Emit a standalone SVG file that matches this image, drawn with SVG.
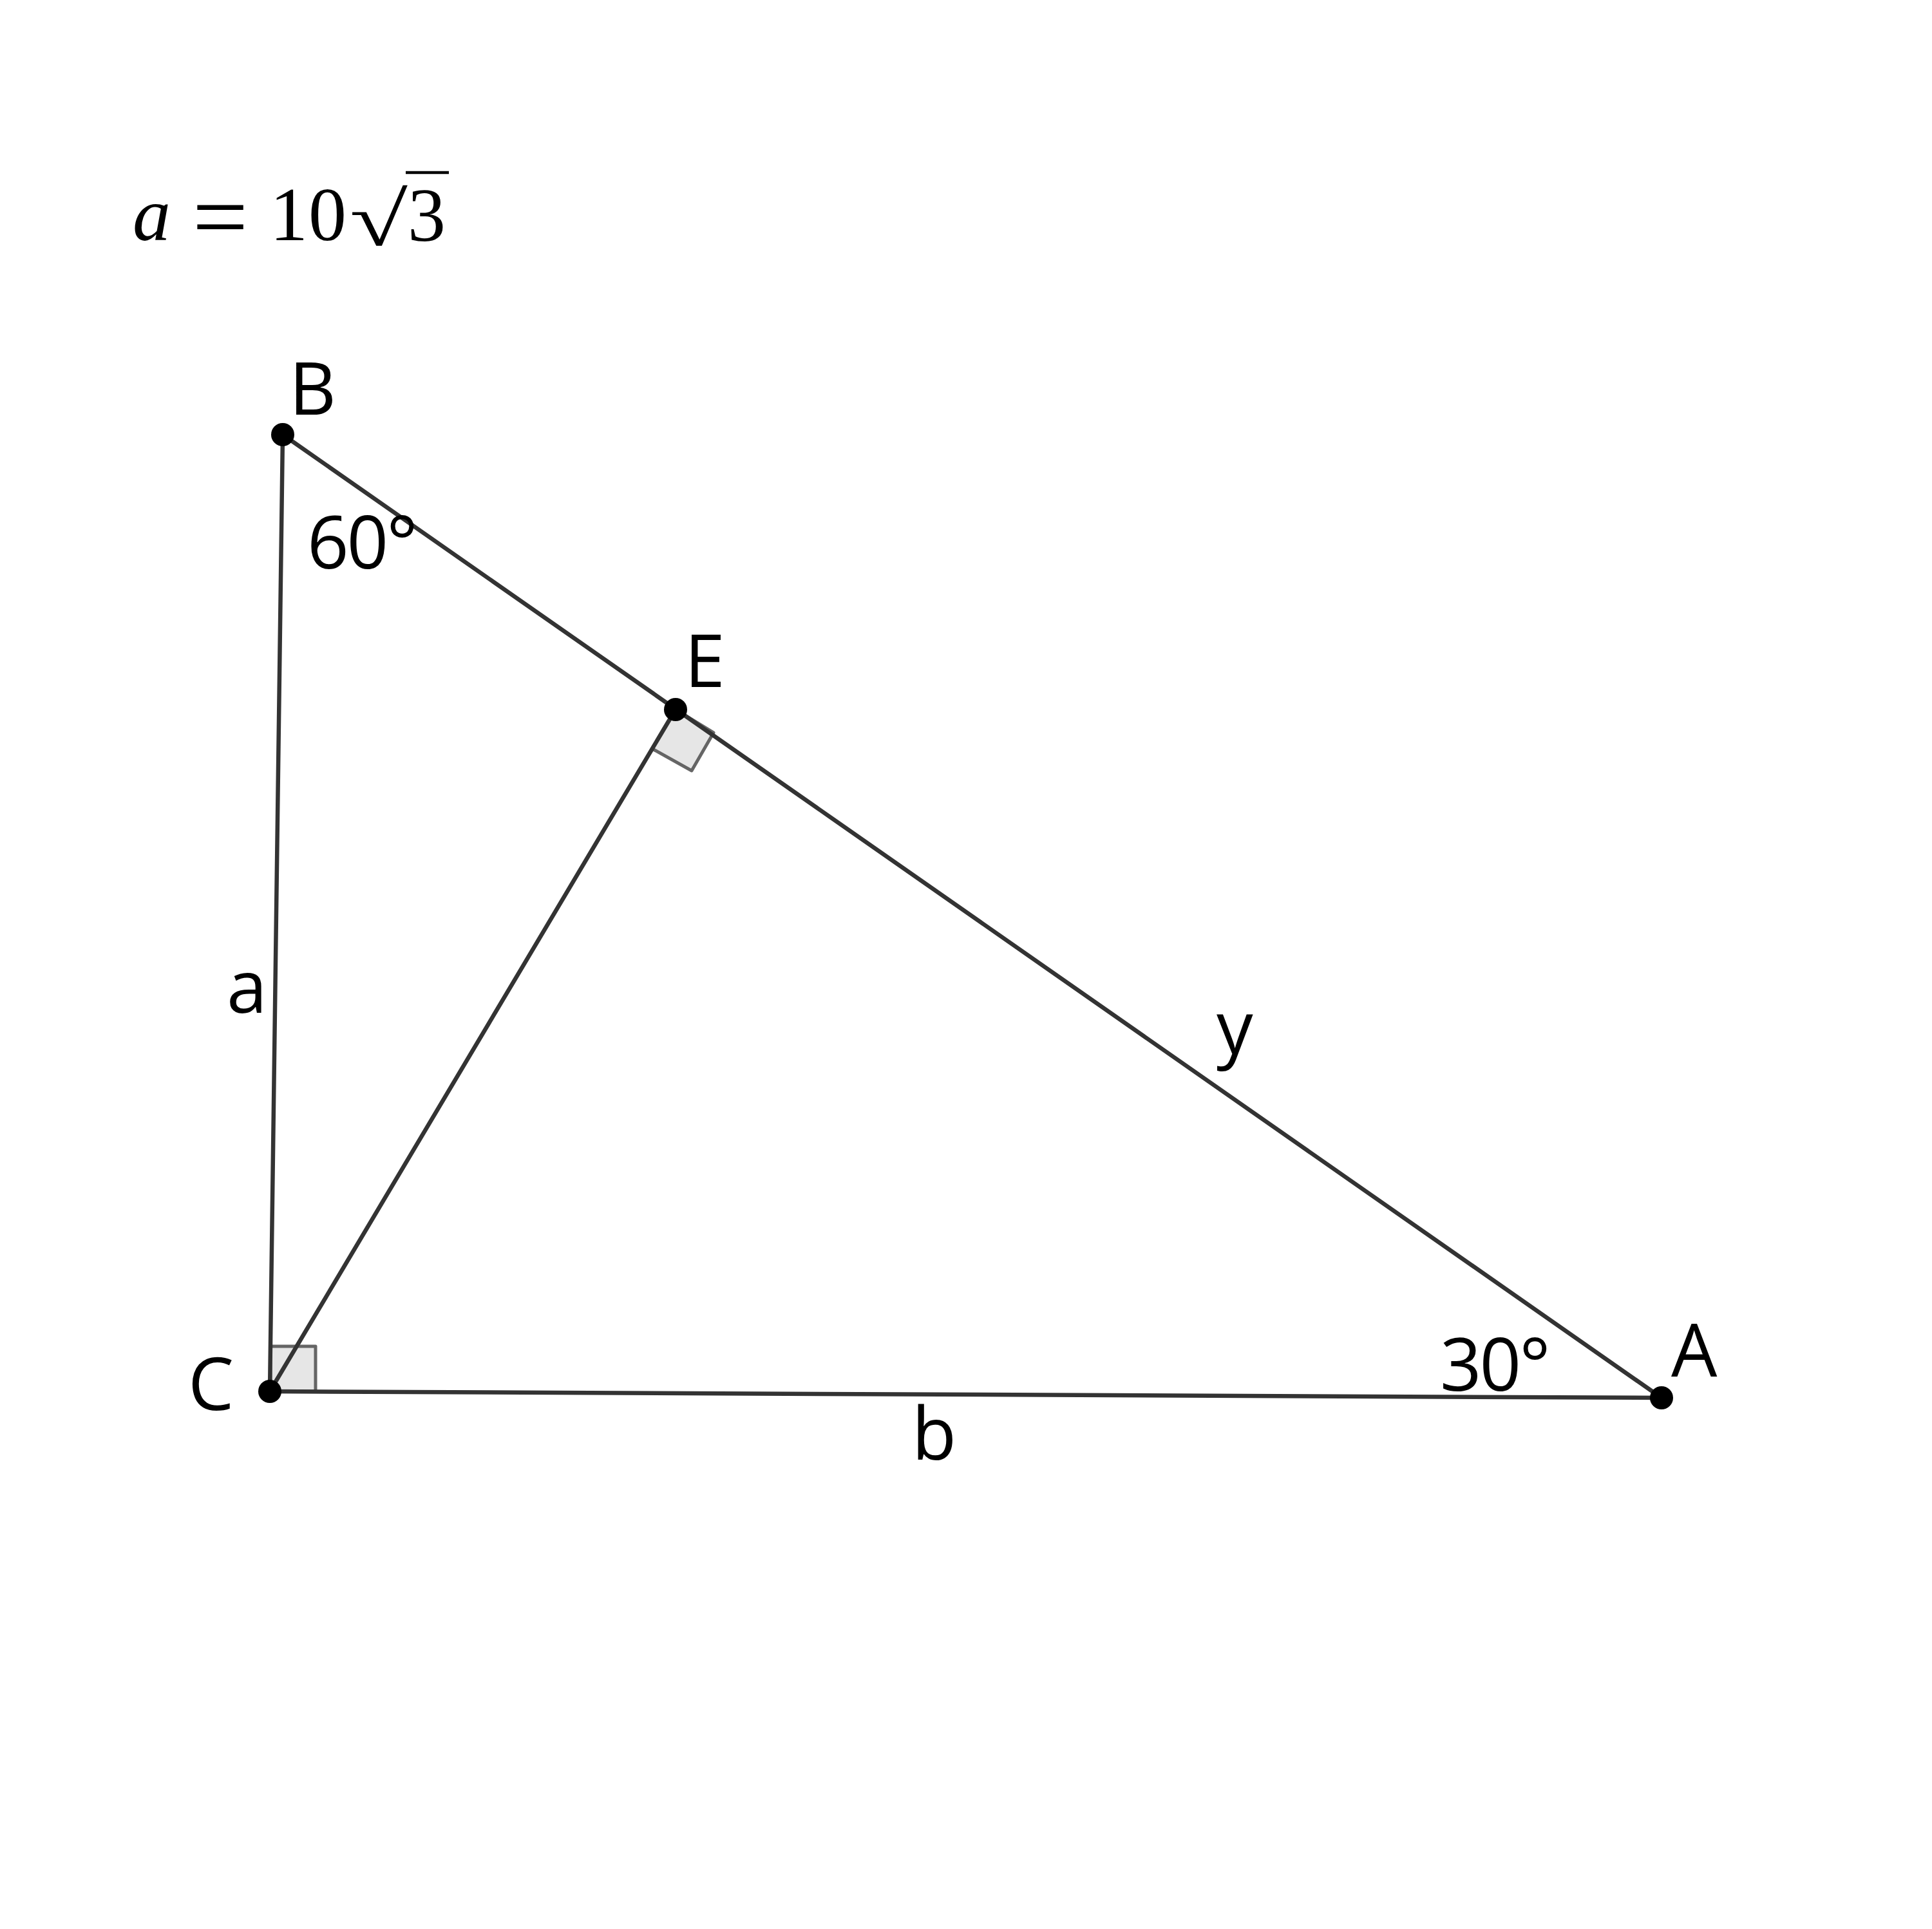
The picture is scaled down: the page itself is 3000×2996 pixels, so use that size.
<svg xmlns="http://www.w3.org/2000/svg" width="3000" height="2996" viewBox="0 0 3000 2996">
<style>
.seg{stroke:#333333;stroke-width:6.5;fill:none;stroke-linecap:round}
.ra{fill:#e6e6e6;stroke:#555555;stroke-width:5;stroke-opacity:0.9;stroke-linejoin:round}
.pt{fill:#000000}
.lbl{font-family:"Open Sans","Noto Sans","DejaVu Sans",sans-serif;font-size:113px;fill:#000000}
.tex{font-family:"Liberation Serif","DejaVu Serif",serif;font-size:118px;fill:#000000}
</style>
<rect width="3000" height="2996" fill="#ffffff"/>
<g id="formula">
<text class="tex" x="206" y="373" font-style="italic">a</text>
<text class="tex" x="-4" y="0" transform="translate(304,387) scale(1.3,1.28)">=</text>
<text class="tex" x="419" y="373">1</text>
<text class="tex" x="479" y="373">0</text>
<text class="tex" x="543" y="381" font-size="182" textLength="90" lengthAdjust="spacingAndGlyphs">√</text>
<line x1="630" y1="268" x2="697" y2="268" stroke="#000" stroke-width="4.5"/>
<text class="tex" x="633" y="374">3</text>
</g>
<g id="angles">
<polygon id="ra-E" class="ra" points="1049,1102 1108,1138 1074,1197 1013,1163"/>
<polygon id="ra-C" class="ra" points="420,2161 420,2091 490,2091 490,2161"/>
</g>
<g id="connectors">
<line id="BC" class="seg" x1="439" y1="675" x2="419" y2="2161"/>
<line id="BA" class="seg" x1="439" y1="675" x2="2580" y2="2171"/>
<line id="CA" class="seg" x1="419" y1="2161" x2="2580" y2="2171"/>
<line id="CE" class="seg" x1="419" y1="2161" x2="1049" y2="1102"/>
</g>
<g id="node-B"><circle class="pt" cx="439" cy="675" r="18"/><text class="lbl" x="449" y="644">B</text></g>
<g id="node-E"><circle class="pt" cx="1049" cy="1102" r="18"/><text class="lbl" x="1063" y="1067">E</text></g>
<g id="node-C"><circle class="pt" cx="419" cy="2161" r="18"/><text class="lbl" x="292" y="2190">C</text></g>
<g id="node-A"><circle class="pt" cx="2580" cy="2171" r="18"/><text class="lbl" x="2595" y="2138">A</text></g>
<g id="labels">
<text class="lbl" x="477" y="883" letter-spacing="-3">60°</text>
<text class="lbl" x="2236" y="2160" letter-spacing="-3">30°</text>
<text class="lbl" x="1416" y="2267">b</text>
<text class="lbl" x="352" y="1573">a</text>
<text class="lbl" x="1889" y="1637">y</text>
</g>
</svg>
